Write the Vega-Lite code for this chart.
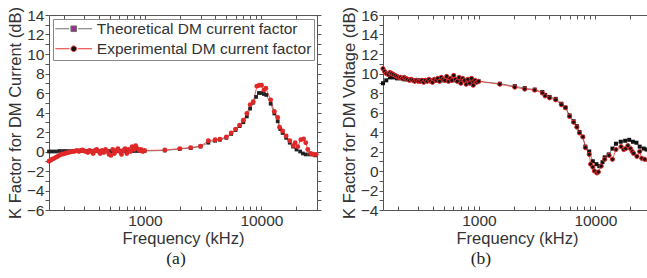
{
  "$schema": "https://vega.github.io/schema/vega-lite/v6.json",
  "padding": {"left": 7, "top": 6, "right": -5, "bottom": 2},
  "spacing": 19,
  "config": {
    "view": {"stroke": null},
    "axis": {"labelFont": "Liberation Sans", "labelFontSize": 15.5, "labelColor": "#333", "titleFont": "Liberation Sans", "titleFontSize": 16.5, "titleFontWeight": "normal", "titleColor": "#333", "domainColor": "#555", "tickColor": "#555", "grid": false}
  },
  "datasets": {
    "a": [
      {"f":150,"k":0.0,"s":"T"},{"f":160,"k":0.0,"s":"T"},{"f":172,"k":0.0,"s":"T"},{"f":184,"k":0.05,"s":"T"},{"f":198,"k":0.05,"s":"T"},{"f":212,"k":0.05,"s":"T"},{"f":228,"k":0.05,"s":"T"},{"f":244,"k":0.05,"s":"T"},{"f":262,"k":0.05,"s":"T"},{"f":281,"k":0.05,"s":"T"},{"f":301,"k":0.05,"s":"T"},{"f":323,"k":0.05,"s":"T"},{"f":347,"k":0.05,"s":"T"},{"f":372,"k":0.05,"s":"T"},{"f":399,"k":0.05,"s":"T"},{"f":428,"k":0.05,"s":"T"},{"f":459,"k":0.05,"s":"T"},{"f":492,"k":0.05,"s":"T"},{"f":528,"k":0.05,"s":"T"},{"f":566,"k":0.05,"s":"T"},{"f":607,"k":0.05,"s":"T"},{"f":651,"k":0.05,"s":"T"},{"f":699,"k":0.05,"s":"T"},{"f":750,"k":0.05,"s":"T"},{"f":804,"k":0.05,"s":"T"},{"f":863,"k":0.05,"s":"T"},{"f":925,"k":0.05,"s":"T"},{"f":992,"k":0.05,"s":"T"},
      {"f":1480,"k":0.1,"s":"T"},{"f":1990,"k":0.25,"s":"T"},{"f":2470,"k":0.35,"s":"T"},{"f":3000,"k":0.5,"s":"T"},{"f":3500,"k":0.9,"s":"T"},{"f":4000,"k":1.1,"s":"T"},{"f":4400,"k":1.2,"s":"T"},{"f":5000,"k":1.4,"s":"T"},{"f":5500,"k":1.8,"s":"T"},{"f":6000,"k":2.2,"s":"T"},{"f":6500,"k":2.6,"s":"T"},{"f":7000,"k":3.0,"s":"T"},{"f":7500,"k":3.6,"s":"T"},{"f":8000,"k":4.4,"s":"T"},{"f":8500,"k":5.0,"s":"T"},{"f":9000,"k":5.6,"s":"T"},{"f":9500,"k":6.0,"s":"T"},{"f":10000,"k":6.0,"s":"T"},{"f":10500,"k":5.9,"s":"T"},{"f":11000,"k":5.8,"s":"T"},{"f":12000,"k":4.9,"s":"T"},{"f":12900,"k":3.9,"s":"T"},{"f":13800,"k":3.1,"s":"T"},{"f":14500,"k":2.3,"s":"T"},{"f":15200,"k":1.9,"s":"T"},{"f":16300,"k":1.4,"s":"T"},{"f":17500,"k":0.9,"s":"T"},{"f":18700,"k":0.5,"s":"T"},{"f":20000,"k":0.2,"s":"T"},{"f":21500,"k":0.0,"s":"T"},{"f":22700,"k":-0.2,"s":"T"},{"f":24000,"k":-0.3,"s":"T"},{"f":25800,"k":-0.3,"s":"T"},{"f":27500,"k":-0.3,"s":"T"},{"f":29000,"k":-0.4,"s":"T"},
      {"f":150,"k":-1.0,"s":"E"},{"f":155,"k":-0.9,"s":"E"},{"f":160,"k":-0.8,"s":"E"},{"f":166,"k":-0.7,"s":"E"},{"f":172,"k":-0.6,"s":"E"},{"f":178,"k":-0.5,"s":"E"},{"f":184,"k":-0.4,"s":"E"},{"f":191,"k":-0.3,"s":"E"},{"f":198,"k":-0.25,"s":"E"},{"f":205,"k":-0.2,"s":"E"},{"f":212,"k":-0.15,"s":"E"},{"f":220,"k":-0.1,"s":"E"},{"f":228,"k":-0.05,"s":"E"},{"f":236,"k":0.0,"s":"E"},{"f":244,"k":0.0,"s":"E"},{"f":253,"k":0.05,"s":"E"},{"f":262,"k":0.1,"s":"E"},{"f":271,"k":0.0,"s":"E"},{"f":281,"k":0.1,"s":"E"},{"f":291,"k":0.15,"s":"E"},{"f":301,"k":0.05,"s":"E"},{"f":312,"k":0.0,"s":"E"},{"f":323,"k":-0.1,"s":"E"},{"f":335,"k":0.1,"s":"E"},{"f":347,"k":0.0,"s":"E"},{"f":359,"k":-0.2,"s":"E"},{"f":372,"k":0.1,"s":"E"},{"f":385,"k":0.2,"s":"E"},{"f":399,"k":0.0,"s":"E"},{"f":413,"k":-0.2,"s":"E"},{"f":428,"k":0.1,"s":"E"},{"f":443,"k":-0.1,"s":"E"},{"f":459,"k":0.2,"s":"E"},{"f":475,"k":0.0,"s":"E"},{"f":492,"k":-0.3,"s":"E"},{"f":510,"k":-0.4,"s":"E"},{"f":528,"k":0.2,"s":"E"},{"f":547,"k":-0.2,"s":"E"},{"f":566,"k":0.1,"s":"E"},{"f":586,"k":0.3,"s":"E"},{"f":607,"k":0.0,"s":"E"},{"f":629,"k":-0.3,"s":"E"},{"f":651,"k":0.1,"s":"E"},{"f":675,"k":0.3,"s":"E"},{"f":699,"k":-0.2,"s":"E"},{"f":724,"k":0.2,"s":"E"},{"f":750,"k":0.0,"s":"E"},{"f":776,"k":0.5,"s":"E"},{"f":804,"k":0.2,"s":"E"},{"f":833,"k":0.6,"s":"E"},{"f":863,"k":0.3,"s":"E"},{"f":893,"k":0.1,"s":"E"},{"f":925,"k":0.2,"s":"E"},{"f":958,"k":0.0,"s":"E"},{"f":992,"k":0.1,"s":"E"},
      {"f":1480,"k":0.15,"s":"E"},{"f":1990,"k":0.3,"s":"E"},{"f":2470,"k":0.4,"s":"E"},{"f":3000,"k":0.55,"s":"E"},{"f":3500,"k":1.1,"s":"E"},{"f":4000,"k":1.2,"s":"E"},{"f":4400,"k":1.25,"s":"E"},{"f":5000,"k":1.5,"s":"E"},{"f":5500,"k":1.9,"s":"E"},{"f":6000,"k":2.3,"s":"E"},{"f":6500,"k":2.7,"s":"E"},{"f":7000,"k":3.2,"s":"E"},{"f":7500,"k":3.9,"s":"E"},{"f":8000,"k":4.8,"s":"E"},{"f":8500,"k":5.1,"s":"E"},{"f":9150,"k":6.7,"s":"E"},{"f":9600,"k":6.8,"s":"E"},{"f":10000,"k":6.8,"s":"E"},{"f":10500,"k":6.3,"s":"E"},{"f":10900,"k":6.5,"s":"E"},{"f":12000,"k":5.3,"s":"E"},{"f":12900,"k":4.1,"s":"E"},{"f":13800,"k":3.5,"s":"E"},{"f":14300,"k":2.5,"s":"E"},{"f":15200,"k":2.1,"s":"E"},{"f":16300,"k":1.6,"s":"E"},{"f":17500,"k":1.1,"s":"E"},{"f":18700,"k":0.6,"s":"E"},{"f":19500,"k":0.9,"s":"E"},{"f":20500,"k":0.5,"s":"E"},{"f":21800,"k":1.2,"s":"E"},{"f":23000,"k":1.3,"s":"E"},{"f":24000,"k":0.9,"s":"E"},{"f":25000,"k":0.2,"s":"E"},{"f":26500,"k":-0.2,"s":"E"},{"f":28000,"k":-0.3,"s":"E"},{"f":29500,"k":-0.3,"s":"E"}
    ],
    "b": [
      {"f":150,"k":9.0,"s":"T"},{"f":160,"k":9.3,"s":"T"},{"f":172,"k":9.6,"s":"T"},{"f":184,"k":9.6,"s":"T"},{"f":198,"k":9.5,"s":"T"},{"f":212,"k":9.5,"s":"T"},{"f":228,"k":9.4,"s":"T"},{"f":244,"k":9.4,"s":"T"},{"f":262,"k":9.35,"s":"T"},{"f":281,"k":9.3,"s":"T"},{"f":301,"k":9.3,"s":"T"},{"f":323,"k":9.3,"s":"T"},{"f":347,"k":9.3,"s":"T"},{"f":372,"k":9.3,"s":"T"},{"f":399,"k":9.3,"s":"T"},{"f":428,"k":9.3,"s":"T"},{"f":459,"k":9.3,"s":"T"},{"f":492,"k":9.3,"s":"T"},{"f":528,"k":9.3,"s":"T"},{"f":566,"k":9.3,"s":"T"},{"f":607,"k":9.3,"s":"T"},{"f":651,"k":9.3,"s":"T"},{"f":699,"k":9.25,"s":"T"},{"f":750,"k":9.25,"s":"T"},{"f":804,"k":9.25,"s":"T"},{"f":863,"k":9.2,"s":"T"},{"f":925,"k":9.2,"s":"T"},{"f":992,"k":9.2,"s":"T"},
      {"f":1510,"k":8.95,"s":"T"},{"f":2030,"k":8.7,"s":"T"},{"f":2470,"k":8.5,"s":"T"},{"f":3010,"k":8.35,"s":"T"},{"f":3500,"k":8.1,"s":"T"},{"f":3700,"k":7.8,"s":"T"},{"f":4040,"k":7.6,"s":"T"},{"f":4560,"k":7.4,"s":"T"},{"f":5100,"k":6.9,"s":"T"},{"f":5530,"k":6.5,"s":"T"},{"f":6000,"k":5.7,"s":"T"},{"f":6500,"k":5.1,"s":"T"},{"f":6930,"k":4.6,"s":"T"},{"f":7300,"k":4.0,"s":"T"},{"f":7800,"k":3.5,"s":"T"},{"f":8200,"k":2.5,"s":"T"},{"f":8850,"k":2.0,"s":"T"},{"f":9500,"k":1.0,"s":"T"},{"f":10200,"k":0.7,"s":"T"},{"f":10800,"k":0.5,"s":"T"},{"f":11500,"k":0.9,"s":"T"},{"f":12000,"k":1.4,"s":"T"},{"f":13000,"k":1.7,"s":"T"},{"f":14000,"k":2.3,"s":"T"},{"f":15000,"k":2.8,"s":"T"},{"f":16500,"k":3.0,"s":"T"},{"f":18000,"k":3.1,"s":"T"},{"f":19500,"k":3.2,"s":"T"},{"f":21000,"k":3.0,"s":"T"},{"f":22500,"k":2.9,"s":"T"},{"f":24000,"k":2.5,"s":"T"},{"f":26000,"k":2.3,"s":"T"},{"f":27500,"k":2.2,"s":"T"},{"f":29500,"k":2.0,"s":"T"},
      {"f":150,"k":10.5,"s":"E"},{"f":155,"k":10.2,"s":"E"},{"f":160,"k":10.0,"s":"E"},{"f":166,"k":9.9,"s":"E"},{"f":172,"k":10.1,"s":"E"},{"f":178,"k":10.0,"s":"E"},{"f":184,"k":9.9,"s":"E"},{"f":191,"k":9.8,"s":"E"},{"f":198,"k":9.7,"s":"E"},{"f":205,"k":9.6,"s":"E"},{"f":212,"k":9.6,"s":"E"},{"f":220,"k":9.5,"s":"E"},{"f":228,"k":9.6,"s":"E"},{"f":236,"k":9.5,"s":"E"},{"f":244,"k":9.4,"s":"E"},{"f":253,"k":9.3,"s":"E"},{"f":262,"k":9.4,"s":"E"},{"f":271,"k":9.3,"s":"E"},{"f":281,"k":9.2,"s":"E"},{"f":291,"k":9.3,"s":"E"},{"f":301,"k":9.2,"s":"E"},{"f":312,"k":9.2,"s":"E"},{"f":323,"k":9.3,"s":"E"},{"f":335,"k":9.1,"s":"E"},{"f":347,"k":9.3,"s":"E"},{"f":359,"k":9.2,"s":"E"},{"f":372,"k":9.4,"s":"E"},{"f":385,"k":9.2,"s":"E"},{"f":399,"k":9.1,"s":"E"},{"f":413,"k":9.4,"s":"E"},{"f":428,"k":9.3,"s":"E"},{"f":443,"k":9.5,"s":"E"},{"f":459,"k":9.2,"s":"E"},{"f":475,"k":9.6,"s":"E"},{"f":492,"k":9.4,"s":"E"},{"f":510,"k":9.3,"s":"E"},{"f":528,"k":9.7,"s":"E"},{"f":547,"k":9.2,"s":"E"},{"f":566,"k":9.5,"s":"E"},{"f":586,"k":9.3,"s":"E"},{"f":607,"k":9.8,"s":"E"},{"f":629,"k":9.4,"s":"E"},{"f":651,"k":9.2,"s":"E"},{"f":675,"k":9.6,"s":"E"},{"f":699,"k":9.0,"s":"E"},{"f":724,"k":9.5,"s":"E"},{"f":750,"k":9.3,"s":"E"},{"f":776,"k":8.9,"s":"E"},{"f":804,"k":9.4,"s":"E"},{"f":833,"k":9.0,"s":"E"},{"f":863,"k":9.5,"s":"E"},{"f":893,"k":8.8,"s":"E"},{"f":925,"k":9.3,"s":"E"},{"f":958,"k":9.1,"s":"E"},{"f":992,"k":9.2,"s":"E"},
      {"f":1510,"k":8.9,"s":"E"},{"f":2030,"k":8.6,"s":"E"},{"f":2470,"k":8.4,"s":"E"},{"f":3010,"k":8.3,"s":"E"},{"f":3500,"k":8.0,"s":"E"},{"f":3700,"k":7.7,"s":"E"},{"f":4040,"k":7.5,"s":"E"},{"f":4560,"k":7.3,"s":"E"},{"f":5100,"k":6.8,"s":"E"},{"f":5530,"k":6.5,"s":"E"},{"f":6000,"k":5.6,"s":"E"},{"f":6500,"k":5.0,"s":"E"},{"f":6930,"k":4.5,"s":"E"},{"f":7300,"k":3.9,"s":"E"},{"f":7800,"k":3.5,"s":"E"},{"f":8200,"k":2.4,"s":"E"},{"f":8850,"k":1.7,"s":"E"},{"f":9100,"k":0.7,"s":"E"},{"f":9500,"k":0.4,"s":"E"},{"f":9800,"k":0.0,"s":"E"},{"f":10300,"k":-0.2,"s":"E"},{"f":10600,"k":-0.1,"s":"E"},{"f":11200,"k":0.5,"s":"E"},{"f":12000,"k":1.2,"s":"E"},{"f":13100,"k":1.6,"s":"E"},{"f":14000,"k":1.2,"s":"E"},{"f":15000,"k":2.2,"s":"E"},{"f":16600,"k":2.5,"s":"E"},{"f":17500,"k":2.2,"s":"E"},{"f":18200,"k":2.3,"s":"E"},{"f":19000,"k":2.6,"s":"E"},{"f":20000,"k":2.3,"s":"E"},{"f":20700,"k":2.0,"s":"E"},{"f":21300,"k":1.8,"s":"E"},{"f":22700,"k":1.5,"s":"E"},{"f":24000,"k":2.0,"s":"E"},{"f":25000,"k":1.3,"s":"E"},{"f":26500,"k":1.2,"s":"E"},{"f":28500,"k":1.1,"s":"E"}
    ]
  },
  "hconcat": [
    {
      "width": 268, "height": 195,
      "data": {"name": "a"},
      "title": {"text": "(a)", "orient": "bottom", "font": "Liberation Serif", "fontSize": 17.5, "fontWeight": "normal", "color": "#222", "dx": -7, "offset": 3},
      "resolve": {"axis": {"x": "independent", "y": "independent"}},
      "layer": [
        {
          "mark": {"type": "line", "strokeWidth": 0.8},
          "encoding": {
            "x": {"field": "f", "type": "quantitative", "scale": {"type": "log", "domain": [150, 30000], "nice": false},
              "axis": {"orient": "bottom", "values": [200,300,400,500,600,700,800,900,1000,2000,3000,4000,5000,6000,7000,8000,9000,10000,20000,30000], "format": "d", "labelExpr": "datum.value === 1000 || datum.value === 10000 ? datum.label : ''", "labelOverlap": false, "tickSize": -4, "labelPadding": 7, "title": "Frequency (kHz)", "titlePadding": 2}},
            "y": {"field": "k", "type": "quantitative", "scale": {"domain": [-6, 14], "nice": false},
              "axis": {"orient": "left", "values": [-6,-5,-4,-3,-2,-1,0,1,2,3,4,5,6,7,8,9,10,11,12,13,14], "labelExpr": "datum.value % 2 === 0 ? datum.label : ''", "labelOverlap": false, "tickSize": 4, "labelPadding": 1, "title": "K Factor for DM Current (dB)", "titlePadding": 3}},
            "color": {"field": "s", "type": "nominal", "scale": {"domain": ["T", "E"], "range": ["#707070", "#e53030"]},
              "legend": {"title": null, "orient": "top-left", "offset": 4, "fillColor": "white", "strokeColor": "#888", "padding": 2, "symbolSize": 64, "symbolOffset": 11, "labelOffset": 15.3, "symbolStrokeWidth": 1, "labelFont": "Liberation Sans", "labelFontSize": 15.5, "labelColor": "#333", "labelLimit": 320, "rowPadding": 3,
                "labelExpr": "datum.value === 'T' ? 'Theoretical DM current factor' : 'Experimental DM current factor'",
                "symbolType": "M-4.6,0H-1.1M1.1,0H4.6M-0.7,-0.7H0.7V0.7H-0.7Z",
                "encode": {"symbols": {"update": {
                  "shape": {"signal": "datum.value === 'T' ? 'M-4.6,0H-1.1M1.1,0H4.6M-0.7,-0.7H0.7V0.7H-0.7Z' : 'M-4.6,0H-1.1M1.1,0H4.6M0.7,0A0.7,0.7 0 1 1 -0.7,0A0.7,0.7 0 1 1 0.7,0Z'"},
                  "fill": {"signal": "datum.value === 'T' ? '#9a2f8f' : '#111'"},
                  "fillOpacity": {"value": 1}
                }}}}}
          }
        },
        {
          "transform": [{"filter": "datum.s === 'T'"}],
          "mark": {"type": "square", "size": 14, "color": "#222", "opacity": 1},
          "encoding": {
            "x": {"field": "f", "type": "quantitative", "scale": {"type": "log", "domain": [150, 30000], "nice": false},
              "axis": {"orient": "top", "values": [200,300,400,500,600,700,800,900,1000,2000,3000,4000,5000,6000,7000,8000,9000,10000,20000,30000], "labels": false, "title": null, "tickSize": -4}},
            "y": {"field": "k", "type": "quantitative", "scale": {"domain": [-6, 14], "nice": false},
              "axis": {"orient": "right", "values": [-6,-5,-4,-3,-2,-1,0,1,2,3,4,5,6,7,8,9,10,11,12,13,14], "labels": false, "title": null, "tickSize": 4}}
          }
        },
        {
          "transform": [{"filter": "datum.s === 'E'"}],
          "mark": {"type": "circle", "size": 24, "color": "#e02828", "opacity": 1},
          "encoding": {
            "x": {"field": "f", "type": "quantitative", "scale": {"type": "log", "domain": [150, 30000], "nice": false}, "axis": null},
            "y": {"field": "k", "type": "quantitative", "scale": {"domain": [-6, 14], "nice": false}, "axis": null}
          }
        }
      ]
    },
    {
      "width": 268, "height": 195,
      "data": {"name": "b"},
      "title": {"text": "(b)", "orient": "bottom", "font": "Liberation Serif", "fontSize": 17.5, "fontWeight": "normal", "color": "#222", "dx": -36, "offset": 3},
      "resolve": {"axis": {"x": "independent", "y": "independent"}},
      "layer": [
        {
          "mark": {"type": "line", "strokeWidth": 0.8},
          "encoding": {
            "x": {"field": "f", "type": "quantitative", "scale": {"type": "log", "domain": [150, 30000], "nice": false},
              "axis": {"orient": "bottom", "values": [200,300,400,500,600,700,800,900,1000,2000,3000,4000,5000,6000,7000,8000,9000,10000,20000,30000], "format": "d", "labelExpr": "datum.value === 1000 || datum.value === 10000 ? datum.label : ''", "labelOverlap": false, "tickSize": -4, "labelPadding": 7, "title": "Frequency (kHz)", "titlePadding": 2}},
            "y": {"field": "k", "type": "quantitative", "scale": {"domain": [-4, 16], "nice": false},
              "axis": {"orient": "left", "values": [-4,-3,-2,-1,0,1,2,3,4,5,6,7,8,9,10,11,12,13,14,15,16], "labelExpr": "datum.value % 2 === 0 ? datum.label : ''", "labelOverlap": false, "tickSize": 4, "labelPadding": 1, "title": "K Factor for DM Voltage (dB)", "titlePadding": 3}},
            "color": {"field": "s", "type": "nominal", "scale": {"domain": ["T", "E"], "range": ["#707070", "#ee6a6a"]},
              "legend": {"title": null, "orient": "top-left", "offset": 4, "fillColor": "white", "strokeColor": "#888", "padding": 2, "symbolSize": 64, "symbolOffset": 11, "labelOffset": 15.3, "symbolStrokeWidth": 1, "labelFont": "Liberation Sans", "labelFontSize": 15.5, "labelColor": "#333", "labelLimit": 320, "rowPadding": 3,
                "labelExpr": "datum.value === 'T' ? 'Theoretical DM voltage factor' : 'Experimental DM voltage factor'",
                "symbolType": "M-4.6,0H-1.1M1.1,0H4.6M-0.7,-0.7H0.7V0.7H-0.7Z",
                "encode": {"symbols": {"update": {
                  "shape": {"signal": "datum.value === 'T' ? 'M-4.6,0H-1.1M1.1,0H4.6M-0.7,-0.7H0.7V0.7H-0.7Z' : 'M-4.6,0H-1.1M1.1,0H4.6M0.7,0A0.7,0.7 0 1 1 -0.7,0A0.7,0.7 0 1 1 0.7,0Z'"},
                  "fill": {"signal": "datum.value === 'T' ? '#9a2f8f' : '#111'"},
                  "fillOpacity": {"value": 1}
                }}}}}
          }
        },
        {
          "transform": [{"filter": "datum.s === 'T'"}],
          "mark": {"type": "square", "size": 16, "color": "#111", "opacity": 1},
          "encoding": {
            "x": {"field": "f", "type": "quantitative", "scale": {"type": "log", "domain": [150, 30000], "nice": false},
              "axis": {"orient": "top", "values": [200,300,400,500,600,700,800,900,1000,2000,3000,4000,5000,6000,7000,8000,9000,10000,20000,30000], "labels": false, "title": null, "tickSize": -4}},
            "y": {"field": "k", "type": "quantitative", "scale": {"domain": [-4, 16], "nice": false}, "axis": null}
          }
        },
        {
          "transform": [{"filter": "datum.s === 'E'"}],
          "mark": {"type": "point", "shape": "circle", "size": 18, "filled": true, "fill": "#111", "stroke": "#e02828", "strokeWidth": 1, "opacity": 1},
          "encoding": {
            "x": {"field": "f", "type": "quantitative", "scale": {"type": "log", "domain": [150, 30000], "nice": false}, "axis": null},
            "y": {"field": "k", "type": "quantitative", "scale": {"domain": [-4, 16], "nice": false}, "axis": null}
          }
        }
      ]
    }
  ]
}
